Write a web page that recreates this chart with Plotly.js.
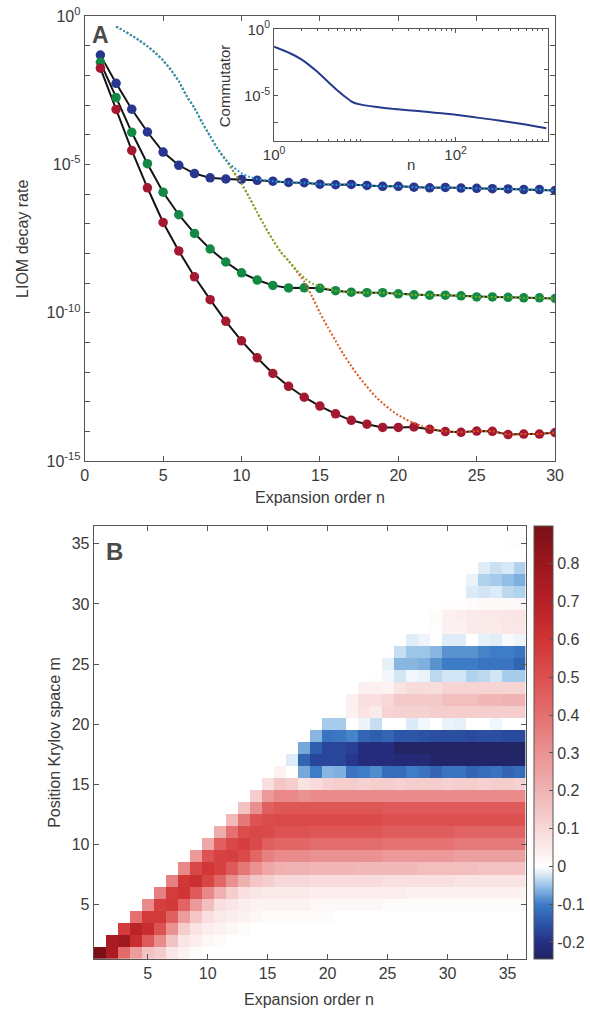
<!DOCTYPE html>
<html><head><meta charset="utf-8">
<script src="https://cdn.plot.ly/plotly-3.0.1.min.js"></script>
<style>html,body{margin:0;padding:0;background:#fff}#chart{width:590px;height:1011px}</style>
</head><body><div id="chart"></div>
<script>
// ---------- Panel A data ----------
const orderN = [1,2,3,4,5,6,7,8,9,10,11,12,13,14,15,16,17,18,19,20,21,22,23,24,25,26,27,28,29,30];
const blueRate = [4.8e-2,5.4e-3,7.2e-4,1.23e-4,2.6e-5,9.3e-6,4.9e-6,3.5e-6,3.2e-6,3.1e-6,2.9e-6,2.7e-6,2.45e-6,2.4e-6,2.15e-6,2.05e-6,2.1e-6,1.95e-6,1.82e-6,1.82e-6,1.7e-6,1.62e-6,1.66e-6,1.58e-6,1.55e-6,1.51e-6,1.48e-6,1.41e-6,1.41e-6,1.32e-6];
const greenRate = [2.75e-2,1.78e-3,1.2e-4,1.05e-5,1.15e-6,2.0e-7,4.7e-8,1.4e-8,5.1e-9,2.2e-9,1.26e-9,8.3e-10,6.8e-10,6.9e-10,6.6e-10,5.5e-10,4.9e-10,4.7e-10,4.7e-10,4.3e-10,4.0e-10,3.9e-10,3.9e-10,3.7e-10,3.4e-10,3.4e-10,3.3e-10,3.16e-10,3.16e-10,3.0e-10];
const redRate = [1.74e-2,7.1e-4,2.95e-5,1.62e-6,1.1e-7,1.2e-8,1.62e-9,2.75e-10,5.1e-11,1.12e-11,3.0e-12,8.9e-13,3.3e-13,1.41e-13,7.1e-14,3.9e-14,2.35e-14,1.74e-14,1.35e-14,1.35e-14,1.41e-14,1.17e-14,9.8e-15,9.3e-15,1.02e-14,1.0e-14,7.8e-15,8.1e-15,8.1e-15,9.1e-15];

// dotted approximations
const dotBlueN = [2,2.5,3,3.5,4,4.5,5,5.5,6,6.5,7,7.5,8,8.5,9,9.5,10,10.5,11];
const dotBlueRate = [0.44,0.316,0.219,0.148,0.0955,0.0575,0.0316,0.0151,0.0063,0.0020,7.9e-4,2.5e-4,8.9e-5,3.2e-5,1.41e-5,7.9e-6,5.0e-6,3.8e-6,3.2e-6];
const dotGreenN = [9.5,10,10.5,11,11.5,12,12.5,13,13.5,14,14.5,15];
const dotGreenRate = [5.6e-6,2.2e-6,7.6e-7,2.4e-7,7.9e-8,2.8e-8,1.12e-8,5.6e-9,2.8e-9,1.48e-9,9.5e-10,7.8e-10];
const dotOrangeN = [13.5,14,14.5,15,15.5,16,16.5,17,17.5,18,18.5,19,19.5,20,20.5,21,21.5,22,23];
const dotOrangeRate = [2.5e-9,1.12e-9,3.5e-10,1.0e-10,3.2e-11,1.12e-11,4.0e-12,1.58e-12,6.8e-13,3.2e-13,1.58e-13,8.9e-14,5.4e-14,3.5e-14,2.5e-14,1.9e-14,1.5e-14,1.26e-14,1.0e-14];

// inset: commutator vs n
const insetN = [1,1.5,2,3,4,5,6,7,8,9,10,15,20,30,50,70,100,200,300,500,700,1000];
const insetComm = [4.9e-2,1.58e-2,5.5e-3,6.3e-4,1.0e-4,2.5e-5,8.9e-6,4.0e-6,2.6e-6,2.2e-6,1.9e-6,1.32e-6,1.05e-6,8.3e-7,6.0e-7,4.8e-7,3.8e-7,2.0e-7,1.41e-7,8.3e-8,5.6e-8,3.6e-8];

// ---------- Panel B data ----------
const krylovN = [1,2,3,4,5,6,7,8,9,10,11,12,13,14,15,16,17,18,19,20,21,22,23,24,25,26,27,28,29,30,31,32,33,34,35,36];
const krylovM = krylovN.slice();
// each row m: first column n holding the listed values (other cells 0)
const krylovStart = [1,2,3,4,5,6,7,8,9,10,11,12,13,14,15,16,17,18,19,20,22,22,23,24,25,26,27,29,29,30,32,32,33,36,35,36];
const krylovRows = [
 [0.9,0.74,0.42,0.27,0.16,0.13,0.06,0.03,0.01],
 [0.74,0.78,0.63,0.47,0.32,0.16,0.06,0.04,0.02,0.01],
 [0.57,0.68,0.63,0.49,0.3,0.13,0.07,0.04,0.03,0.02,0.01],
 [0.4,0.58,0.58,0.45,0.27,0.15,0.08,0.05,0.04,0.03,0.02,0.01,0.01,0.01,0.01,0.01,0.01],
 [0.32,0.56,0.58,0.44,0.28,0.17,0.08,0.06,0.04,0.03,0.03,0.03,0.03,0.03,0.02,0.02,0.02,0.02,0.02,0.02,0.01,0.01,0.01,0.01,0.01,0.01,0.01,0.01,0.01,0.01,0.01,0.01],
 [0.35,0.57,0.6,0.47,0.33,0.21,0.13,0.08,0.06,0.05,0.05,0.05,0.05,0.04,0.04,0.04,0.04,0.04,0.04,0.04,0.04,0.03,0.03,0.03,0.03,0.03,0.03,0.03,0.03,0.03,0.03],
 [0.35,0.59,0.62,0.54,0.43,0.31,0.21,0.15,0.13,0.1,0.1,0.1,0.09,0.09,0.09,0.09,0.09,0.09,0.08,0.08,0.08,0.08,0.08,0.08,0.07,0.07,0.07,0.07,0.07,0.07],
 [0.33,0.53,0.59,0.55,0.47,0.38,0.3,0.24,0.21,0.2,0.2,0.19,0.19,0.19,0.19,0.18,0.18,0.18,0.18,0.18,0.17,0.17,0.17,0.17,0.17,0.16,0.16,0.16,0.16],
 [0.28,0.49,0.55,0.56,0.52,0.43,0.35,0.32,0.32,0.32,0.3,0.3,0.3,0.3,0.3,0.3,0.28,0.28,0.28,0.28,0.28,0.28,0.26,0.26,0.26,0.26,0.26,0.26],
 [0.24,0.45,0.53,0.56,0.52,0.45,0.43,0.43,0.43,0.41,0.41,0.41,0.41,0.41,0.41,0.39,0.39,0.39,0.39,0.39,0.39,0.37,0.37,0.37,0.37,0.37,0.37],
 [0.22,0.4,0.51,0.53,0.52,0.49,0.49,0.49,0.48,0.48,0.48,0.48,0.48,0.48,0.46,0.46,0.46,0.46,0.46,0.46,0.44,0.44,0.44,0.44,0.44,0.44],
 [0.18,0.38,0.49,0.51,0.52,0.52,0.52,0.52,0.52,0.52,0.52,0.52,0.52,0.5,0.5,0.5,0.5,0.5,0.5,0.5,0.5,0.5,0.5,0.5,0.5],
 [0.16,0.31,0.45,0.48,0.48,0.48,0.48,0.48,0.48,0.48,0.48,0.48,0.47,0.47,0.47,0.47,0.47,0.47,0.47,0.47,0.47,0.47,0.47,0.47],
 [0.13,0.28,0.33,0.33,0.3,0.32,0.32,0.32,0.32,0.32,0.32,0.32,0.32,0.32,0.32,0.32,0.32,0.32,0.32,0.32,0.32,0.32,0.32],
 [0.08,0.15,0.13,0.07,0.09,0.12,0.13,0.13,0.12,0.13,0.13,0.12,0.13,0.13,0.13,0.12,0.13,0.13,0.12,0.13,0.13,0.12],
 [0.03,0,-0.07,-0.1,-0.06,-0.065,-0.11,-0.1,-0.09,-0.12,-0.12,-0.1,-0.11,-0.13,-0.11,-0.11,-0.13,-0.12,-0.11,-0.13,-0.12],
 [-0.02,-0.13,-0.17,-0.17,-0.17,-0.19,-0.21,-0.21,-0.21,-0.22,-0.22,-0.22,-0.235,-0.235,-0.235,-0.235,-0.235,-0.235,-0.235,-0.235],
 [-0.07,-0.14,-0.17,-0.17,-0.18,-0.21,-0.21,-0.21,-0.24,-0.24,-0.24,-0.24,-0.24,-0.24,-0.24,-0.24,-0.24,-0.24,-0.24],
 [-0.06,-0.11,-0.105,-0.095,-0.13,-0.14,-0.13,-0.15,-0.15,-0.155,-0.16,-0.16,-0.16,-0.165,-0.16,-0.16,-0.165,-0.165],
 [-0.045,-0.045,0,-0.01,-0.03,0,0,-0.02,-0.008,0,-0.012,-0.015,0,0,-0.008,0,0],
 [0.035,0.07,0.05,0.11,0.12,0.12,0.12,0.13,0.13,0.13,0.13,0.13,0.13,0.13,0.13],
 [0.035,0.08,0.08,0.1,0.14,0.14,0.14,0.14,0.17,0.17,0.17,0.19,0.19,0.2,0.2],
 [0.035,0.035,0.03,0.07,0.09,0.09,0.085,0.11,0.11,0.11,0.11,0.11,0.11,0.11],
 [0.003,-0.008,-0.025,-0.008,-0.012,-0.035,-0.025,-0.025,-0.04,-0.035,-0.025,-0.045,-0.045],
 [-0.015,-0.06,-0.06,-0.065,-0.085,-0.1,-0.1,-0.1,-0.11,-0.11,-0.11,-0.13],
 [-0.03,-0.05,-0.05,-0.06,-0.085,-0.085,-0.085,-0.095,-0.1,-0.1,-0.11],
 [-0.018,-0.01,0,-0.018,-0.018,0,-0.015,-0.018,-0.005,-0.01],
 [0.008,0.03,0.03,0.05,0.05,0.05,0.06,0.06],
 [0.01,0.035,0.04,0.05,0.055,0.055,0.06,0.07],
 [0.005,0.005,0.01,0.015,0.015,0.015,0.02],
 [-0.02,-0.025,-0.02,-0.035,-0.04],
 [-0.012,-0.04,-0.045,-0.055,-0.065],
 [-0.018,-0.028,-0.022,-0.04],
 [0],
 [0.004,0.01],
 [0.005]
];
const cbTickVals = [-0.2,-0.1,0,0.1,0.2,0.3,0.4,0.5,0.6,0.7,0.8];
const cbTickText = ['-0.2','-0.1','0','0.1','0.2','0.3','0.4','0.5','0.6','0.7','0.8'];
const mainYTickVals = [1, 1e-5, 1e-10, 1e-15];
const mainYTickText = ['10<sup>0</sup>', '10<sup>-5</sup>', '10<sup>-10</sup>', '10<sup>-15</sup>'];

// ---------- build ----------
const W = 590, H = 1011;
const px = x => x / W, py = y => 1 - y / H;
const zMin = -0.245, zMax = 0.9;
const stopVals = [-0.245,-0.2,-0.15,-0.1,-0.05,-0.02,0,0.05,0.1,0.2,0.3,0.4,0.5,0.6,0.7,0.8,0.9];
const stopCols = ['#21235f','#262f86','#2c56a8','#3d7cc6','#9cc5e8','#dcebf7','#ffffff','#fbeaea','#f7d8d8','#f0b3b3','#ea9292','#e47070','#dc5050','#d03434','#b52026','#9a171d','#7a1016'];
const colorscale = stopVals.map((v,i) => [(v - zMin)/(zMax - zMin), stopCols[i]]);

const zMatrix = krylovM.map((m, i) => {
  const row = krylovN.map(() => 0);
  krylovRows[i].forEach((v, j) => { row[krylovStart[i] - 1 + j] = v; });
  return row;
});

const font = 'Liberation Sans, Arial, Helvetica, sans-serif';
const axCol = '#555555';
const txtCol = '#3a3a3a';

const traces = [];
const seriesCols = ['#27378f', '#138a43', '#a4192f'];
[blueRate, greenRate, redRate].forEach(s => traces.push({
  x: orderN, y: s, mode: 'lines', xaxis: 'x', yaxis: 'y',
  line: {color: '#151515', width: 2}, hoverinfo: 'skip'
}));
[blueRate, greenRate, redRate].forEach((s, i) => traces.push({
  x: orderN, y: s, mode: 'markers', xaxis: 'x', yaxis: 'y',
  marker: {size: 9.5, color: seriesCols[i]}
}));
// dotted curves (full curves assembled from the pieces)
const blueFullN = dotBlueN.concat(orderN.slice(11));
const blueFullY = dotBlueRate.concat(blueRate.slice(11));
const greenFullN = dotBlueN.slice(0, 15).concat(dotGreenN, orderN.slice(15));
const greenFullY = dotBlueRate.slice(0, 15).concat(dotGreenRate, greenRate.slice(15));
const orangeFullN = greenFullN.slice(0, 15 + 8).concat(dotOrangeN, orderN.slice(23));
const orangeFullY = greenFullY.slice(0, 15 + 8).concat(dotOrangeRate, redRate.slice(23));
[[orangeFullN, orangeFullY, '#e0581e'], [greenFullN, greenFullY, '#7cae2e'], [blueFullN, blueFullY, '#2396dc']].forEach(d => traces.push({
  x: d[0], y: d[1], mode: 'lines', xaxis: 'x', yaxis: 'y',
  line: {color: d[2], width: 2, dash: '2px,2px', shape: 'spline', smoothing: 0.6}
}));
traces.push({
  x: insetN, y: insetComm, mode: 'lines', xaxis: 'x3', yaxis: 'y3',
  line: {color: '#263a8c', width: 2, shape: 'spline', smoothing: 0.5}
});
traces.push({
  type: 'heatmap', x: krylovN, y: krylovM, z: zMatrix, xaxis: 'x2', yaxis: 'y2',
  zmin: zMin, zmax: zMax, colorscale: colorscale, zsmooth: false,
  colorbar: {
    x: px(535.7), xanchor: 'left', y: py(959), yanchor: 'bottom',
    len: (959 - 525.7) / H, lenmode: 'fraction', thickness: 19.3, thicknessmode: 'pixels',
    xpad: 0, ypad: 0, outlinewidth: 1, outlinecolor: axCol,
    ticks: 'inside', ticklen: 4, tickcolor: axCol,
    tickvals: cbTickVals, ticktext: cbTickText,
    tickfont: {family: font, size: 16, color: txtCol}
  }
});

// tick-mark-only positions (axis decoration)
const mainYMinor = [];
for (let k = -1; k >= -14; k--) { if (k % 5 !== 0) mainYMinor.push(Math.pow(10, k)); }
const insetMinor = [];
[1, 10, 100].forEach(b => { for (let j = 2; j <= 9; j++) insetMinor.push(b * j); });

const baseAx = {
  showline: true, linecolor: axCol, linewidth: 1, mirror: 'ticks',
  ticks: 'inside', tickcolor: axCol, ticklen: 5, showgrid: false, zeroline: false,
  tickfont: {family: font, size: 16, color: txtCol}, fixedrange: true
};
const layout = {
  width: W, height: H, margin: {l: 0, r: 0, t: 0, b: 0},
  paper_bgcolor: '#ffffff', plot_bgcolor: 'rgba(0,0,0,0)', showlegend: false,
  font: {family: font, color: txtCol},
  xaxis: Object.assign({}, baseAx, {domain: [px(85), px(557)], range: [0, 30], anchor: 'y', tickvals: [0,5,10,15,20,25,30]}),
  yaxis: Object.assign({}, baseAx, {domain: [py(461), py(16)], type: 'log', range: [-15, 0], anchor: 'x',
    tickvals: mainYTickVals, ticktext: mainYTickText,
    minor: {tickvals: mainYMinor, ticks: 'inside', ticklen: 5, tickcolor: axCol}}),
  xaxis2: Object.assign({}, baseAx, {domain: [px(94), px(527.3)], range: [0.5, 36.5], anchor: 'y2', tickvals: [5,10,15,20,25,30,35]}),
  yaxis2: Object.assign({}, baseAx, {domain: [py(959), py(525.7)], range: [0.5, 36.5], anchor: 'x2', tickvals: [5,10,15,20,25,30,35]}),
  xaxis3: Object.assign({}, baseAx, {domain: [px(275), px(550)], type: 'log', range: [0, 3.02], anchor: 'y3',
    tickvals: [1, 100], ticktext: ['10<sup>0</sup>', '10<sup>2</sup>'], ticklen: 4,
    tickfont: {family: font, size: 15, color: txtCol},
    minor: {tickvals: insetMinor, ticks: 'inside', ticklen: 2, tickcolor: axCol}}),
  yaxis3: Object.assign({}, baseAx, {domain: [py(141), py(29.3)], type: 'log', range: [-8.4, 0], anchor: 'x3',
    tickvals: [1, 1e-5], ticktext: ['10<sup>0</sup>', '10<sup>-5</sup>'], ticklen: 4,
    tickfont: {family: font, size: 15, color: txtCol},
    minor: {tickvals: [1e-3, 1e-7], ticks: 'inside', ticklen: 4, tickcolor: axCol}}),
  annotations: [
    {text: '<b>A</b>', x: px(101), y: py(35), font: {size: 23, color: '#4a4a4a'}},
    {text: '<b>B</b>', x: px(115), y: py(551), font: {size: 24, color: '#4a4a4a'}},
    {text: 'LIOM decay rate', x: px(22.5), y: py(238.5), textangle: -90, font: {size: 16, color: txtCol}},
    {text: 'Expansion order n', x: px(321), y: py(497), font: {size: 16, color: txtCol}},
    {text: 'Commutator', x: px(226), y: py(86), textangle: -90, font: {size: 15, color: txtCol}},
    {text: 'n', x: px(412), y: py(165), font: {size: 15, color: txtCol}},
    {text: 'Expansion order n', x: px(310), y: py(999), font: {size: 16, color: txtCol}},
    {text: 'Position Krylov space m', x: px(54), y: py(742), textangle: -90, font: {size: 16, color: txtCol}}
  ].map(a => Object.assign({xref: 'paper', yref: 'paper', showarrow: false, xanchor: 'center', yanchor: 'middle'}, a, {font: Object.assign({family: font}, a.font)}))
};
Plotly.newPlot('chart', traces, layout, {displayModeBar: false, staticPlot: true});
</script>
</body></html>
